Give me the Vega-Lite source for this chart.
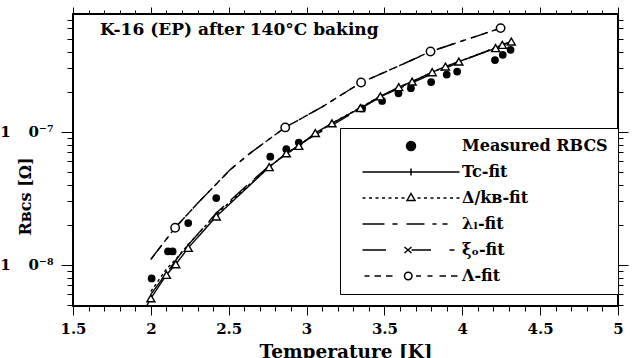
{
  "$schema": "https://vega.github.io/schema/vega-lite/v6.json",
  "width": 545,
  "height": 292,
  "autosize": {"type": "none"},
  "padding": {"left": 73, "top": 14, "right": 20, "bottom": 52},
  "config": {
    "font": "DejaVu Serif",
    "view": {"stroke": "black", "strokeWidth": 2}
  },
  "title": {"text": "K-16 (EP)  after 140°C baking", "anchor": "start", "frame": "group", "offset": -45, "dx": 27, "fontSize": 17, "fontWeight": "bold", "font": "DejaVu Serif", "baseline": "alphabetic", "color": "black"},
  "datasets": {
    "curves": [
      {"s": "Tc-fit", "T": 1.975, "R": 4.95e-9},
      {"s": "Tc-fit", "T": 2.0, "R": 5.6e-9},
      {"s": "Tc-fit", "T": 2.1, "R": 8.4e-9},
      {"s": "Tc-fit", "T": 2.16, "R": 1.01e-8},
      {"s": "Tc-fit", "T": 2.24, "R": 1.34e-8},
      {"s": "Tc-fit", "T": 2.42, "R": 2.31e-8},
      {"s": "Tc-fit", "T": 2.6, "R": 3.63e-8},
      {"s": "Tc-fit", "T": 2.76, "R": 5.43e-8},
      {"s": "Tc-fit", "T": 2.87, "R": 6.9e-8},
      {"s": "Tc-fit", "T": 2.95, "R": 7.85e-8},
      {"s": "Tc-fit", "T": 3.056, "R": 9.8e-8},
      {"s": "Tc-fit", "T": 3.163, "R": 1.16e-7},
      {"s": "Tc-fit", "T": 3.346, "R": 1.51e-7},
      {"s": "Tc-fit", "T": 3.474, "R": 1.85e-7},
      {"s": "Tc-fit", "T": 3.592, "R": 2.17e-7},
      {"s": "Tc-fit", "T": 3.678, "R": 2.39e-7},
      {"s": "Tc-fit", "T": 3.807, "R": 2.81e-7},
      {"s": "Tc-fit", "T": 3.892, "R": 3.1e-7},
      {"s": "Tc-fit", "T": 3.978, "R": 3.38e-7},
      {"s": "Tc-fit", "T": 4.214, "R": 4.26e-7},
      {"s": "Tc-fit", "T": 4.257, "R": 4.51e-7},
      {"s": "Tc-fit", "T": 4.315, "R": 4.78e-7},
      {"s": "Δ/kʙ-fit", "T": 2.0, "R": 6.3e-9},
      {"s": "Δ/kʙ-fit", "T": 2.1, "R": 9.3e-9},
      {"s": "Δ/kʙ-fit", "T": 2.16, "R": 1.1e-8},
      {"s": "Δ/kʙ-fit", "T": 2.24, "R": 1.42e-8},
      {"s": "Δ/kʙ-fit", "T": 2.42, "R": 2.4e-8},
      {"s": "Δ/kʙ-fit", "T": 2.6, "R": 3.7e-8},
      {"s": "Δ/kʙ-fit", "T": 2.76, "R": 5.5e-8},
      {"s": "Δ/kʙ-fit", "T": 2.95, "R": 7.9e-8},
      {"s": "Δ/kʙ-fit", "T": 3.163, "R": 1.16e-7},
      {"s": "Δ/kʙ-fit", "T": 3.474, "R": 1.85e-7},
      {"s": "Δ/kʙ-fit", "T": 3.807, "R": 2.81e-7},
      {"s": "Δ/kʙ-fit", "T": 4.0, "R": 3.45e-7},
      {"s": "Δ/kʙ-fit", "T": 4.315, "R": 4.78e-7},
      {"s": "ξₒ-fit", "T": 2.0, "R": 6.0e-9},
      {"s": "ξₒ-fit", "T": 2.2, "R": 1.25e-8},
      {"s": "ξₒ-fit", "T": 2.42, "R": 2.45e-8},
      {"s": "ξₒ-fit", "T": 2.6, "R": 3.8e-8},
      {"s": "ξₒ-fit", "T": 2.76, "R": 5.55e-8},
      {"s": "ξₒ-fit", "T": 3.0, "R": 8.7e-8},
      {"s": "ξₒ-fit", "T": 3.5, "R": 1.9e-7},
      {"s": "ξₒ-fit", "T": 4.0, "R": 3.42e-7},
      {"s": "ξₒ-fit", "T": 4.3, "R": 4.7e-7},
      {"s": "λₗ-fit", "T": 2.0, "R": 1.1e-8},
      {"s": "λₗ-fit", "T": 2.156, "R": 1.9e-8},
      {"s": "λₗ-fit", "T": 2.3, "R": 2.9e-8},
      {"s": "λₗ-fit", "T": 2.51, "R": 5.2e-8},
      {"s": "λₗ-fit", "T": 2.64, "R": 6.95e-8},
      {"s": "λₗ-fit", "T": 2.863, "R": 1.08e-7},
      {"s": "λₗ-fit", "T": 3.1, "R": 1.54e-7},
      {"s": "λₗ-fit", "T": 3.35, "R": 2.35e-7},
      {"s": "λₗ-fit", "T": 3.6, "R": 3.16e-7},
      {"s": "λₗ-fit", "T": 3.796, "R": 4.02e-7},
      {"s": "λₗ-fit", "T": 4.0, "R": 4.83e-7},
      {"s": "λₗ-fit", "T": 4.246, "R": 6.03e-7},
      {"s": "λₗ-fit", "T": 4.27, "R": 6.2e-7},
      {"s": "Λ-fit", "T": 2.0, "R": 1.1e-8},
      {"s": "Λ-fit", "T": 2.156, "R": 1.9e-8},
      {"s": "Λ-fit", "T": 2.3, "R": 2.9e-8},
      {"s": "Λ-fit", "T": 2.51, "R": 5.2e-8},
      {"s": "Λ-fit", "T": 2.64, "R": 6.95e-8},
      {"s": "Λ-fit", "T": 2.863, "R": 1.08e-7},
      {"s": "Λ-fit", "T": 3.1, "R": 1.54e-7},
      {"s": "Λ-fit", "T": 3.35, "R": 2.35e-7},
      {"s": "Λ-fit", "T": 3.6, "R": 3.16e-7},
      {"s": "Λ-fit", "T": 3.796, "R": 4.02e-7},
      {"s": "Λ-fit", "T": 4.0, "R": 4.83e-7},
      {"s": "Λ-fit", "T": 4.246, "R": 6.03e-7},
      {"s": "Λ-fit", "T": 4.27, "R": 6.2e-7}
    ],
    "meas": [
      {"T": 2.005, "R": 7.9e-9},
      {"T": 2.11, "R": 1.26e-8},
      {"T": 2.14, "R": 1.26e-8},
      {"T": 2.24, "R": 2.06e-8},
      {"T": 2.42, "R": 3.18e-8},
      {"T": 2.767, "R": 6.5e-8},
      {"T": 2.87, "R": 7.4e-8},
      {"T": 2.95, "R": 8.3e-8},
      {"T": 3.357, "R": 1.5e-7},
      {"T": 3.485, "R": 1.71e-7},
      {"T": 3.59, "R": 1.95e-7},
      {"T": 3.67, "R": 2.13e-7},
      {"T": 3.8, "R": 2.37e-7},
      {"T": 3.9, "R": 2.7e-7},
      {"T": 3.967, "R": 2.84e-7},
      {"T": 4.21, "R": 3.47e-7},
      {"T": 4.26, "R": 3.8e-7},
      {"T": 4.31, "R": 4.14e-7}
    ],
    "tri": [
      {"T": 2.0, "R": 5.6e-9},
      {"T": 2.1, "R": 8.4e-9},
      {"T": 2.16, "R": 1.01e-8},
      {"T": 2.24, "R": 1.34e-8},
      {"T": 2.42, "R": 2.31e-8},
      {"T": 2.76, "R": 5.43e-8},
      {"T": 2.87, "R": 6.9e-8},
      {"T": 2.95, "R": 7.85e-8},
      {"T": 3.056, "R": 9.8e-8},
      {"T": 3.163, "R": 1.16e-7},
      {"T": 3.346, "R": 1.51e-7},
      {"T": 3.474, "R": 1.85e-7},
      {"T": 3.592, "R": 2.17e-7},
      {"T": 3.678, "R": 2.39e-7},
      {"T": 3.807, "R": 2.81e-7},
      {"T": 3.892, "R": 3.1e-7},
      {"T": 3.978, "R": 3.38e-7},
      {"T": 4.214, "R": 4.26e-7},
      {"T": 4.257, "R": 4.51e-7},
      {"T": 4.315, "R": 4.78e-7}
    ],
    "lam": [
      {"T": 2.156, "R": 1.9e-8},
      {"T": 2.863, "R": 1.08e-7},
      {"T": 3.35, "R": 2.35e-7},
      {"T": 3.796, "R": 4.02e-7},
      {"T": 4.246, "R": 6.03e-7}
    ],
    "legend": [
      {"s": "Measured RBCS"},
      {"s": "Tc-fit"},
      {"s": "Δ/kʙ-fit"},
      {"s": "λₗ-fit"},
      {"s": "ξₒ-fit"},
      {"s": "Λ-fit"}
    ]
  },
  "layer": [
    {
      "data": {"name": "curves"},
      "mark": {"type": "line", "color": "black", "strokeWidth": 1.4},
      "encoding": {
        "x": {"field": "T", "type": "quantitative", "scale": {"domain": [1.5, 5], "nice": false, "zero": false},
          "axis": {"orient": "bottom", "tickCount": 35,
            "labelExpr": "abs(datum.value*2 - round(datum.value*2)) < 0.01 ? format(datum.value, '~g') : ''",
            "labelOverlap": false, "labelFlush": false,
            "tickSize": 9, "tickColor": "black", "tickWidth": 1,
            "tickDash": {"condition": {"test": "abs(datum.value*2 - round(datum.value*2)) < 0.01", "value": [40, 1]}, "value": [5, 40]},
            "domain": false, "grid": false, "labelColor": "black", "titleColor": "black",
            "labelFontSize": 15, "labelFontWeight": "bold", "labelPadding": 6,
            "title": "Temperature [K]", "titleFontSize": 18.5, "titleFontWeight": "bold", "titlePadding": 6}},
        "y": {"field": "R", "type": "quantitative", "scale": {"type": "log", "domain": [4.9e-9, 7.7e-7], "nice": false},
          "axis": {"orient": "left", "tickCount": 30,
            "labelExpr": "abs(log(datum.value)/LN10 - round(log(datum.value)/LN10)) < 0.001 ? (round(log(datum.value)/LN10) == -7 ? '1\u2003\u20090⁻⁷' : '1\u2003\u20090⁻⁸') : ''",
            "labelOverlap": false, "labelFlush": false,
            "tickSize": 12, "tickColor": "black", "tickWidth": 1,
            "tickDash": {"condition": {"test": "abs(log(datum.value)/LN10 - round(log(datum.value)/LN10)) < 0.001", "value": [40, 1]}, "value": [6, 40]},
            "domain": false, "grid": false, "labelColor": "black", "titleColor": "black",
            "labelFontSize": 15, "labelFontWeight": "bold", "labelPadding": 8,
            "title": "Rʙᴄꜱ [Ω]", "titleFontSize": 16, "titleFontWeight": "bold", "titleX": -40, "titleY": 182}},
        "strokeDash": {"field": "s", "type": "nominal", "legend": null,
          "scale": {"domain": ["Tc-fit", "Δ/kʙ-fit", "λₗ-fit", "ξₒ-fit", "Λ-fit"], "range": [[1, 0], [3, 3], [18, 7, 4, 7], [22, 9], [6, 5]]}}
      }
    },
    {
      "data": {"name": "meas"},
      "mark": {"type": "point", "shape": "circle", "filled": true, "color": "black", "size": 60, "opacity": 1},
      "encoding": {
        "x": {"field": "T", "type": "quantitative",
          "axis": {"orient": "top", "tickCount": 35, "labels": false, "title": null, "domain": false, "grid": false,
            "tickSize": 7, "tickColor": "black", "tickWidth": 1,
            "tickDash": {"condition": {"test": "abs(datum.value*2 - round(datum.value*2)) < 0.01", "value": [40, 1]}, "value": [4, 40]}}},
        "y": {"field": "R", "type": "quantitative",
          "axis": {"orient": "right", "tickCount": 30, "labels": false, "title": null, "domain": false, "grid": false,
            "tickSize": 10, "tickColor": "black", "tickWidth": 1,
            "tickDash": {"condition": {"test": "abs(log(datum.value)/LN10 - round(log(datum.value)/LN10)) < 0.001", "value": [40, 1]}, "value": [5, 40]}}}
      }
    },
    {
      "data": {"name": "tri"},
      "mark": {"type": "point", "shape": "triangle-up", "filled": true, "fill": "white", "stroke": "black", "strokeWidth": 1.4, "size": 65, "opacity": 1},
      "encoding": {
        "x": {"field": "T", "type": "quantitative", "axis": null},
        "y": {"field": "R", "type": "quantitative", "axis": null}
      }
    },
    {
      "data": {"name": "lam"},
      "mark": {"type": "point", "shape": "circle", "filled": true, "fill": "white", "stroke": "black", "strokeWidth": 1.5, "size": 70, "opacity": 1},
      "encoding": {
        "x": {"field": "T", "type": "quantitative", "axis": null},
        "y": {"field": "R", "type": "quantitative", "axis": null}
      }
    },
    {
      "data": {"name": "legend"},
      "mark": {"type": "point", "opacity": 0, "size": 100, "filled": true, "strokeWidth": 1.3},
      "encoding": {
        "shape": {"field": "s", "type": "nominal",
          "scale": {"domain": ["Measured RBCS", "Tc-fit", "Δ/kʙ-fit", "λₗ-fit", "ξₒ-fit", "Λ-fit"],
            "range": [
              "M -0.9 0 A 0.9 0.9 0 1 0 0.9 0 A 0.9 0.9 0 1 0 -0.9 0 Z",
              "M -9.7 0 L 9.7 0 M 0 -0.7 L 0 0.7",
              "M -9.7 0 L -9.1 0 M -8.4 0 L -7.8 0 M -7.1 0 L -6.5 0 M -5.8 0 L -5.2 0 M -4.5 0 L -3.9 0 M -3.2 0 L -2.6 0 M -1.9 0 L -1.3 0 M -0.8 0.5 L 0 -0.9 L 0.8 0.5 Z M 1.3 0 L 1.9 0 M 2.6 0 L 3.2 0 M 3.9 0 L 4.5 0 M 5.2 0 L 5.8 0 M 6.5 0 L 7.1 0 M 7.8 0 L 8.4 0 M 9.1 0 L 9.7 0",
              "M -9.7 0 L -5.3 0 M -3.7 0 L -2.7 0 M -0.9 0 L 2.7 0 M 4.3 0 L 5.1 0 M 6.3 0 L 7.3 0",
              "M -9.7 0 L -5 0 M -1.3 -0.6 L 0.1 0.6 M -1.3 0.6 L 0.1 -0.6 M 0.1 0 L 4 0 M 7.7 0 L 8.7 0",
              "M -9.3 0 L -8.3 0 M -7.3 0 L -6 0 M -5 0 L -3.7 0 M -1.3 0 A 0.75 0.75 0 1 0 0.2 0 A 0.75 0.75 0 1 0 -1.3 0 Z M 1 0 L 2 0 M 3.3 0 L 4.3 0 M 5.7 0 L 7 0 M 8 0 L 9.3 0"
            ]},
          "legend": {
            "title": null, "orient": "none", "legendX": 267, "legendY": 114,
            "padding": 10, "strokeColor": "black", "fillColor": "white",
            "symbolSize": 100, "symbolOffset": 53, "labelOffset": 43, "rowPadding": 10,
            "labelFont": "DejaVu Serif", "labelFontSize": 16, "labelFontWeight": "bold", "labelColor": "black",
            "symbolOpacity": 1, "labelLimit": 300
          }},
        "fill": {"field": "s", "type": "nominal",
          "scale": {"domain": ["Measured RBCS", "Tc-fit", "Δ/kʙ-fit", "λₗ-fit", "ξₒ-fit", "Λ-fit"],
            "range": ["black", "white", "white", "white", "white", "white"]},
          "legend": {
            "title": null, "orient": "none", "legendX": 267, "legendY": 114,
            "padding": 10, "strokeColor": "black", "fillColor": "white",
            "symbolSize": 100, "symbolOffset": 53, "labelOffset": 43, "rowPadding": 10,
            "labelFont": "DejaVu Serif", "labelFontSize": 16, "labelFontWeight": "bold", "labelColor": "black",
            "symbolOpacity": 1, "labelLimit": 300
          }},
        "stroke": {"field": "s", "type": "nominal",
          "scale": {"domain": ["Measured RBCS", "Tc-fit", "Δ/kʙ-fit", "λₗ-fit", "ξₒ-fit", "Λ-fit"],
            "range": ["black", "black", "black", "black", "black", "black"]},
          "legend": {
            "title": null, "orient": "none", "legendX": 267, "legendY": 114,
            "padding": 10, "strokeColor": "black", "fillColor": "white",
            "symbolSize": 100, "symbolOffset": 53, "labelOffset": 43, "rowPadding": 10,
            "labelFont": "DejaVu Serif", "labelFontSize": 16, "labelFontWeight": "bold", "labelColor": "black",
            "symbolOpacity": 1, "labelLimit": 300
          }}
      }
    }
  ]
}
